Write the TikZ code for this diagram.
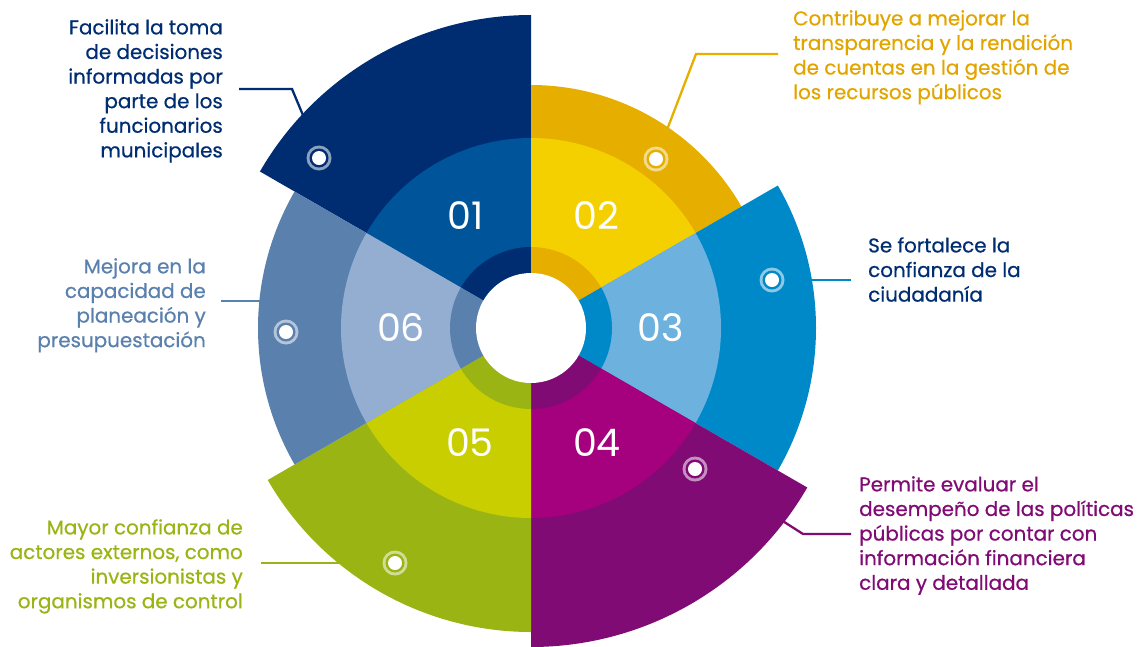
\documentclass[tikz,border=0pt]{standalone}
\usepackage{fontspec}
\usetikzlibrary{calc}
\setmainfont{Poppins}
\newfontfamily\medfont{Poppins}[FakeBold=0.6]
\definecolor{navyO}{RGB}{0,45,114}
\definecolor{navyM}{RGB}{0,84,154}
\definecolor{goldO}{RGB}{230,175,0}
\definecolor{goldM}{RGB}{245,208,0}
\definecolor{goldT}{RGB}{226,165,0}
\definecolor{cyanO}{RGB}{0,137,200}
\definecolor{cyanM}{RGB}{109,177,223}
\definecolor{purpO}{RGB}{128,11,116}
\definecolor{purpM}{RGB}{165,0,126}
\definecolor{oliveO}{RGB}{154,180,20}
\definecolor{oliveM}{RGB}{200,206,0}
\definecolor{steelO}{RGB}{90,128,173}
\definecolor{steelM}{RGB}{147,174,208}
\tikzset{
  txt/.style={inner sep=0pt, font=\medfont\fontsize{19.9}{24.6}\selectfont},
  numlbl/.style={inner sep=0pt, text=white, font=\fontsize{38}{38}\selectfont},
  leader/.style={line width=2.3pt},
}
\newcommand{\wedgepart}[4]{% color, start, end, radius
  \fill[#1] (C) -- ++(#2:#4) arc[start angle=#2, end angle=#3, radius=#4] -- cycle;}
\newcommand{\dotmark}[3]{% name, position, color
  \fill[white, opacity=0.55] (#2) circle[radius=12.5pt];
  \fill[#3] (#2) circle[radius=9.5pt];
  \fill[white] (#2) circle[radius=7pt];
  \coordinate (#1) at (#2);}
\begin{document}
\begin{tikzpicture}[x=1pt,y=1pt]
\useasboundingbox (0,0) rectangle (1139,-646);
\coordinate (C) at (531,-328);
% leader lines (under sectors)
\coordinate (l1a) at (239,-89); \coordinate (l1b) at (292,-89); \coordinate (l1c) at (305,-120);
\coordinate (l2a) at (665,-135); \coordinate (l2b) at (696,-54); \coordinate (l2c) at (778,-54);
\coordinate (l3a) at (800,-280); \coordinate (l3b) at (851,-280);
\coordinate (l4a) at (778,-518); \coordinate (l4b) at (803,-534); \coordinate (l4c) at (851,-534);
\coordinate (l5a) at (261,-563); \coordinate (l5b) at (350,-563);
\coordinate (l6a) at (221,-301); \coordinate (l6b) at (270,-301);
\draw[leader, navyO] (l1a) -- (l1b) -- (l1c);
\draw[leader, goldO] (l2a) -- (l2b) -- (l2c);
\draw[leader, cyanO] (l3a) -- (l3b);
\draw[leader, purpO] (l4a) -- (l4b) -- (l4c);
\draw[leader, oliveO] (l5a) -- (l5b);
\draw[leader, steelO] (l6a) -- (l6b);
% outer sectors
\wedgepart{navyO}{90}{150}{313pt}
\wedgepart{goldO}{30}{90}{243pt}
\wedgepart{cyanO}{-30}{30}{285pt}
\wedgepart{purpO}{-90}{-30}{319pt}
\wedgepart{oliveO}{-150}{-90}{304pt}
\wedgepart{steelO}{150}{210}{273pt}
% middle ring
\wedgepart{navyM}{90}{150}{190pt}
\wedgepart{goldM}{30}{90}{190pt}
\wedgepart{cyanM}{-30}{30}{190pt}
\wedgepart{purpM}{-90}{-30}{190pt}
\wedgepart{oliveM}{-150}{-90}{190pt}
\wedgepart{steelM}{150}{210}{190pt}
% inner ring
\wedgepart{navyO}{90}{150}{81pt}
\wedgepart{goldO}{30}{90}{81pt}
\wedgepart{cyanO}{-30}{30}{81pt}
\wedgepart{purpO}{-90}{-30}{81pt}
\wedgepart{oliveO}{-150}{-90}{81pt}
\wedgepart{steelO}{150}{210}{81pt}
\fill[white] (C) circle[radius=55pt];
% numbers
\node[numlbl] (n1) at ($(C)+(120:130pt)$) {01};
\node[numlbl] (n2) at ($(C)+(60:130pt)$) {02};
\node[numlbl] (n3) at ($(C)+(0:130pt)$) {03};
\node[numlbl] (n4) at ($(C)+(-60:132pt)$) {04};
\node[numlbl] (n5) at ($(C)+(-118:130pt)$) {05};
\node[numlbl] (n6) at ($(C)+(180:130pt)$) {06};
% dots
\dotmark{d1}{319,-158}{navyO}
\dotmark{d2}{656,-159}{goldO}
\dotmark{d3}{772,-280}{cyanO}
\dotmark{d4}{695,-469}{purpO}
\dotmark{d5}{395,-563}{oliveO}
\dotmark{d6}{286,-332}{steelO}
% texts
\node[txt, text=navyO, align=right, anchor=north east] (t1) at (223,-19)
  {Facilita la toma\\de decisiones\\informadas por\\parte de los\\funcionarios\\municipales};
\node[txt, text=goldT, align=left, anchor=north west] (t2) at (793,-10)
  {Contribuye a mejorar la\\transparencia y la rendición\\de cuentas en la gestión de\\los recursos públicos};
\node[txt, text=navyO, align=left, anchor=north west] (t3) at (868,-237)
  {Se fortalece la\\confianza de la\\ciudadanía};
\node[txt, text=purpO, align=left, anchor=north west] (t4) at (859,-476)
  {Permite evaluar el\\desempeño de las políticas\\públicas por contar con\\información financiera\\clara y detallada};
\node[txt, text=oliveO, align=right, anchor=north east] (t5) at (243,-519)
  {Mayor confianza de\\actores externos, como\\inversionistas y\\organismos de control};
\node[txt, text=steelO, align=right, anchor=north east] (t6) at (206,-258)
  {Mejora en la\\capacidad de\\planeación y\\presupuestación};
\end{tikzpicture}
\end{document}
